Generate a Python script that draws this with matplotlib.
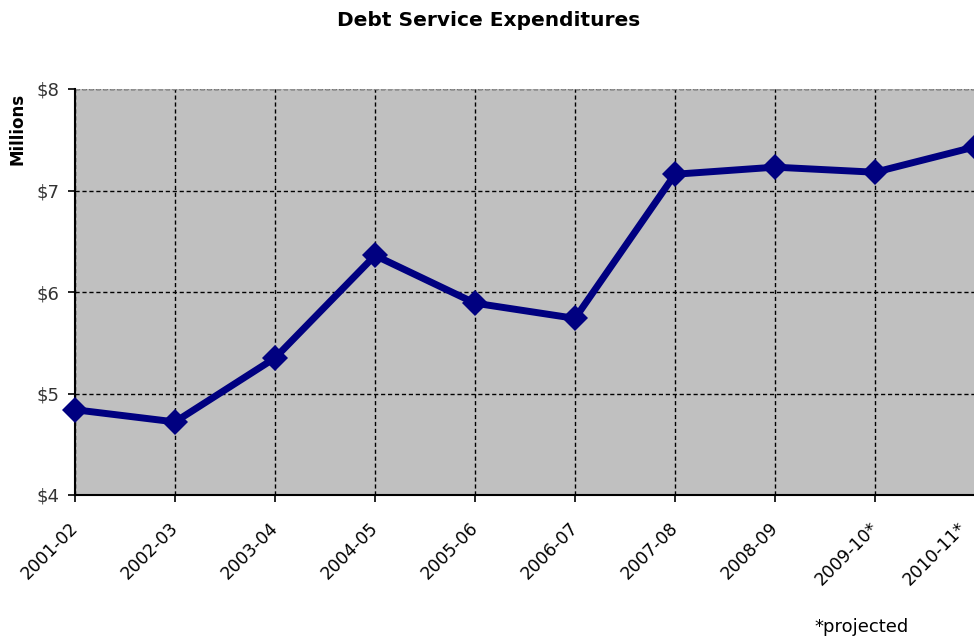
import matplotlib
matplotlib.use("Agg")
import matplotlib.pyplot as plt
from matplotlib.transforms import ScaledTranslation

years = ["2001-02", "2002-03", "2003-04", "2004-05", "2005-06", "2006-07",
         "2007-08", "2008-09", "2009-10*", "2010-11*"]
expenditures = [4.84, 4.72, 5.35, 6.36, 5.89, 5.74, 7.16, 7.23, 7.18, 7.43]
y_ticks = [4, 5, 6, 7, 8]
y_tick_labels = ["$4", "$5", "$6", "$7", "$8"]

plt.rcParams["font.family"] = ["DejaVu Sans"]

W, H = 974, 639
fig = plt.figure(figsize=(W / 100, H / 100), dpi=100)
ax = fig.add_axes([75 / W, 1 - 495 / H, 900 / W, (495 - 89) / H])
ax.set_facecolor("#c0c0c0")

x = list(range(len(years)))
ax.plot(x, expenditures, color="#000080", linewidth=5, marker="D",
        markersize=13, markeredgewidth=0, zorder=3, clip_on=False)

ax.set_xlim(0, len(years) - 1)
ax.set_ylim(4, 8)
ax.set_yticks(y_ticks)
ax.set_yticklabels(y_tick_labels, fontsize=13, color="#333333")
ax.set_xticks(x)
ax.set_xticklabels(years, rotation=45, ha="right", rotation_mode="anchor",
                   fontsize=12.5)

ax.grid(True, color="black", linestyle=(0, (3, 2)), linewidth=1)
ax.tick_params(axis="both", direction="out", length=5, width=1.2, color="black")
ax.tick_params(axis="x", pad=12)
ax.tick_params(axis="y", pad=6)

# nudge the slanted year labels left; the last one a bit more so it stays
# inside the figure edge
labels = ax.get_xticklabels()
for i, lbl in enumerate(labels):
    dx = -18 if i == len(labels) - 1 else -6
    lbl.set_transform(lbl.get_transform()
                      + ScaledTranslation(dx / 100, 0, fig.dpi_scale_trans))

for side in ("top", "right"):
    ax.spines[side].set_visible(False)
ax.spines["left"].set_linewidth(1.5)
ax.spines["bottom"].set_linewidth(1.5)
ax.axhline(8, color="#909090", linestyle=(0, (3, 2)), linewidth=1, zorder=2)

fig.text(489 / W, 1 - 20 / H, "Debt Service Expenditures", ha="center",
         va="center", fontsize=14.5, fontweight="bold")
fig.text(18 / W, 1 - 93 / H, "Millions", rotation=90, ha="center", va="top",
         fontsize=12, fontweight="bold")
fig.text(862 / W, 1 - 627 / H, "*projected", ha="center", va="center",
         fontsize=13)

fig.savefig("out.png", dpi=100)
